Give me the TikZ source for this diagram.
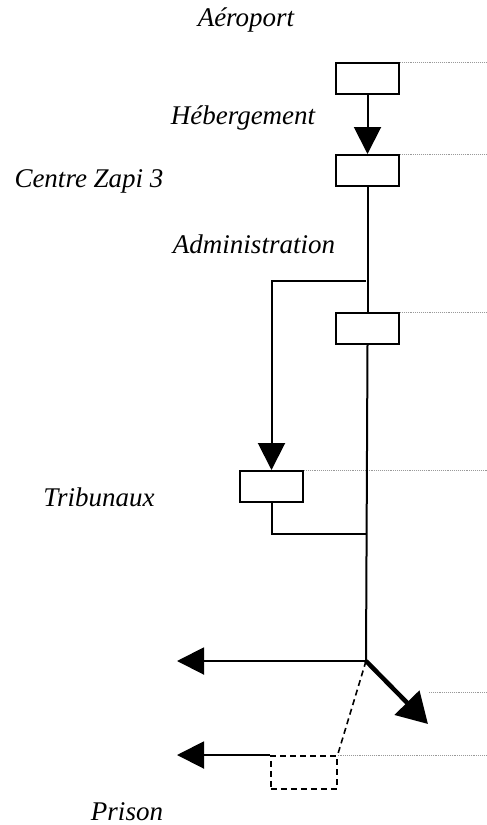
\documentclass[tikz,border=0pt]{standalone}
\usepackage{fontspec}
\setmainfont{Liberation Serif}
\usetikzlibrary{arrows.meta}
\begin{document}
\begin{tikzpicture}[x=1pt,y=-1pt,
  stage/.style={draw,line width=2pt,minimum width=63pt,minimum height=31pt,inner sep=0pt,anchor=north west},
  dstage/.style={draw,dash pattern=on 6pt off 4pt,line width=1.6pt,minimum width=66pt,minimum height=33pt,inner sep=0pt,anchor=north west},
  lab/.style={font=\fontsize{27}{30}\selectfont\itshape},
  conn/.style={line width=2pt},
  guide/.style={densely dotted,gray!80,line width=0.9pt},
  tri/.style={-{Triangle[length=27pt,width=27pt]}},
  ]
\useasboundingbox (0,0) rectangle (487,825);
\node[stage] (b1) at (335,62) {};
\node[stage] (b2) at (335,154) {};
\node[stage] (b3) at (335,312) {};
\node[stage] (b4) at (239,470) {};
\node[dstage] (b5) at (270,755) {};
\coordinate (g1) at (487,62);
\coordinate (g2) at (487,154);
\coordinate (g3) at (487,312);
\coordinate (g4) at (487,470);
\coordinate (g5) at (487,755);
\coordinate (g6a) at (429,692);
\coordinate (g6) at (487,692);
\coordinate (split) at (366,281);
\coordinate (join) at (366,534);
\coordinate (hub) at (366,661);
\coordinate (left1) at (177,661);
\coordinate (left2) at (177,755);
\coordinate (diag) at (428,724);
\node[lab] (t1) at (246,20) {Aéroport};
\node[lab] (t2) at (243,118) {Hébergement};
\node[lab] (t3) at (89,181) {Centre Zapi 3};
\node[lab] (t4) at (254,244) {Administration};
\node[lab] (t5) at (99,497) {Tribunaux};
\node[lab,inner sep=0pt,anchor=base] (t6) at (127,820) {Prison};
\draw[guide] (b1.north east) -- (g1);
\draw[guide] (b2.north east) -- (g2);
\draw[guide] (b3.north east) -- (g3);
\draw[guide] (b4.north east) -- (g4);
\draw[guide] (b5.north east) -- (g5);
\draw[guide] (g6a) -- (g6);
\draw[conn,tri] (b1.south) -- (b2.north);
\draw[conn] (b2.south) -- (b3.north);
\draw[conn] (b3.south) -- (hub);
\draw[conn,tri] (split) -| (b4.north);
\draw[conn] (b4.south) |- (join);
\draw[conn,tri] (hub) -- (left1);
\draw[line width=4.5pt,-{Triangle[length=30pt,width=34pt]}] (hub) -- (diag);
\draw[dash pattern=on 6pt off 4pt,line width=1.6pt] (hub) -- (b5.north east);
\draw[conn,tri] (b5.north west) -- (left2);
\end{tikzpicture}
\end{document}
